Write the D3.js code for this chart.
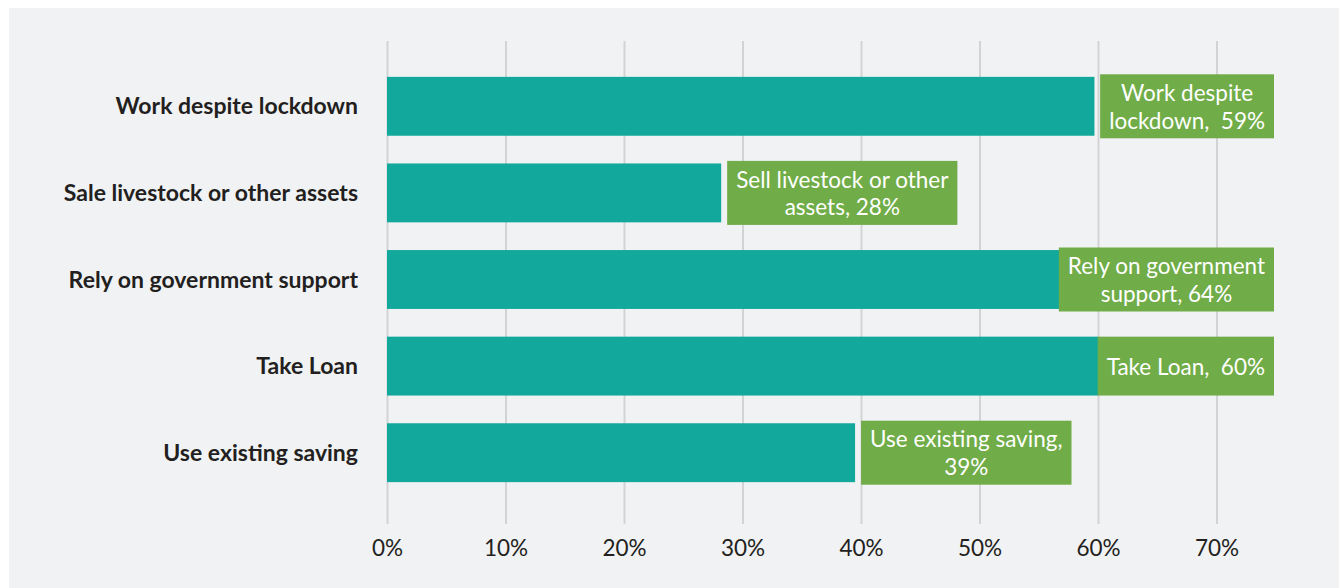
<!DOCTYPE html>
<html><head><meta charset="utf-8">
<script src="https://cdn.jsdelivr.net/npm/d3@7"></script>
<style>
html,body{margin:0;padding:0;background:#fff;}
svg{display:block;}
text{white-space:pre;}
</style></head>
<body>
<svg id="chart" width="1339" height="588"></svg>
<script>
const categories = ["Work despite lockdown","Sale livestock or other assets","Rely on government support","Take Loan","Use existing saving"];
const values = [59.7, 28.2, 64, 60, 39.5];
const labelLines = [
  ["Work despite","lockdown,  59%"],
  ["Sell livestock or other","assets, 28%"],
  ["Rely on government","support, 64%"],
  ["Take Loan,  60%"],
  ["Use existing saving,","39%"]
];
const tickValues = [0,10,20,30,40,50,60,70];

const W = 1339, H = 588;
const svg = d3.select("#chart");
const font = "Lato, 'Open Sans', sans-serif";

svg.append("rect").attr("x",9).attr("y",8).attr("width",W-9).attr("height",H-8).attr("fill","#f1f2f4");

const x = d3.scaleLinear().domain([0,70]).range([387,1216.5]);
const y = d3.scaleBand().domain(categories).range([63,496]).paddingInner(0.32).paddingOuter(0.16);

// grid
const grid = svg.append("g").attr("transform","translate(0,524)")
  .call(d3.axisBottom(x).tickValues(tickValues).tickSize(-483).tickFormat(""));
grid.select(".domain").remove();
grid.selectAll(".tick line").attr("stroke","#d3d3d5").attr("stroke-width",2);

// tick labels
const ax = svg.append("g").attr("transform","translate(0,524)")
  .call(d3.axisBottom(x).tickValues(tickValues).tickSize(0).tickPadding(0).tickFormat(d=>d+"%"));
ax.select(".domain").remove();
ax.selectAll("text").attr("y",32).attr("dy",0).attr("font-family",font).attr("font-size",22.5).attr("fill","#231f20");

// category labels
const yax = svg.append("g").attr("transform","translate(387,0)")
  .call(d3.axisLeft(y).tickSize(0).tickPadding(29));
yax.select(".domain").remove();
yax.selectAll("text").attr("font-family",font).attr("font-size",23).attr("font-weight","bold").attr("fill","#231f20").attr("dy","0.35em");

// bars
svg.append("g").selectAll("rect").data(categories).join("rect")
  .attr("x",x(0)).attr("y",d=>y(d)).attr("height",y.bandwidth())
  .attr("width",(d,i)=>x(values[i])-x(0)).attr("fill","#12a89c");

// labels
const lh = 27.5, pad = 9, rightLimit = 1274;
categories.forEach((c,i)=>{
  const g = svg.append("g");
  const rect = g.append("rect").attr("fill","#70ac47");
  const t = g.append("text").attr("font-family",font).attr("font-size",22.5).attr("fill","#fff").attr("text-anchor","middle");
  const lines = labelLines[i];
  lines.forEach((l,j)=>t.append("tspan").attr("x",0).attr("dy", j===0?0:lh).text(l));
  let wmax = 0;
  t.selectAll("tspan").each(function(){wmax=Math.max(wmax,this.getComputedTextLength());});
  const bw = wmax + 2*pad;
  const bh = Math.max(y.bandwidth(), lines.length*lh + 9);
  let left = x(values[i]) + 6;
  if (left + bw > rightLimit) left = rightLimit - bw;
  const cy = y(c) + y.bandwidth()/2;
  rect.attr("x",left).attr("y",cy-bh/2).attr("width",bw).attr("height",bh);
  const firstBase = cy - (lines.length-1)*lh/2 + 8.5;
  t.attr("transform",`translate(${left+bw/2},${firstBase})`);
});
</script>
</body></html>
